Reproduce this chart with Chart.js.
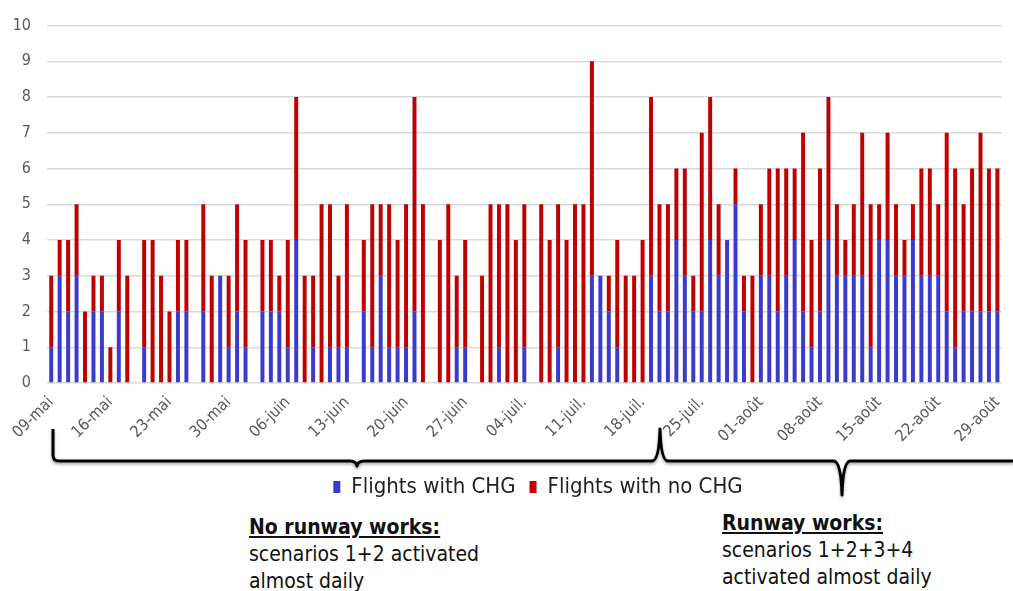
<!DOCTYPE html>
<html>
<head>
<meta charset="utf-8">
<script src="https://cdn.jsdelivr.net/npm/chart.js@4/dist/chart.umd.min.js"></script>
<style>
  body { margin: 0; background: #fff; }
  #wrap { position: relative; width: 1013px; height: 591px; overflow: hidden; }
  #box { position: absolute; left: 0; top: 0; width: 1013px; height: 505px; }
  .note { position: absolute; font-family: 'DejaVu Sans Condensed', 'Liberation Sans', sans-serif;
          font-size: 21px; line-height: 27px; color: #111; white-space: nowrap; }
  .note b { text-decoration: underline; }
</style>
</head>
<body>
<div id="wrap">
  <div id="box"><canvas id="chg"></canvas></div>
  <div class="note" style="left:249px; top:514px"><b>No runway works:</b><br>scenarios 1+2 activated<br>almost daily</div>
  <div class="note" style="left:722px; top:510px"><b>Runway works:</b><br>scenarios 1+2+3+4<br>activated almost daily</div>
</div>
<script>
// one bar per day, 09 May -> 29 Aug
let months = [['mai', 31], ['juin', 30], ['juil.', 31], ['août', 31]]
let firstDay = 9
let nbDays = 113

let withChg = [
    1,3,2,3,0,2,2,0,2,0,
    0,1,0,0,0,2,2,0,2,0,
    3,1,2,1,0,2,2,2,1,4,
    0,1,0,1,1,1,0,2,1,3,
    1,1,1,2,0,0,0,0,1,1,
    0,0,0,1,0,0,1,0,0,0,
    1,0,0,0,3,3,2,1,0,0,
    0,3,2,2,4,3,2,2,4,3,
    4,5,2,0,3,3,2,3,4,2,
    1,2,4,3,3,3,3,1,4,4,
    3,3,4,3,3,3,2,1,2,2,
    2,2,2
]
let noChg = [
    2,1,2,2,2,1,1,1,2,3,
    0,3,4,3,2,2,2,0,3,3,
    0,2,3,3,0,2,2,1,3,4,
    3,2,5,4,2,4,0,2,4,2,
    4,3,4,6,5,0,4,5,2,3,
    0,3,5,4,5,4,4,0,5,4,
    4,4,5,5,6,0,1,3,3,3,
    4,5,3,3,2,3,1,5,4,2,
    0,1,1,3,2,3,4,3,2,5,
    3,4,4,2,1,2,4,4,1,3,
    2,1,1,3,3,2,5,5,3,4,
    5,4,4
]
let yTicks = [0,1,2,3,4,5,6,7,8,9,10]

let days = []
let m = 0, d = firstDay
for (let i = 0; i < nbDays; i++) {
    days.push((d < 10 ? '0' + d : '' + d) + '-' + months[m][0])
    d++
    if (d > months[m][1]) { d = 1; m++ }
}

let font = "'DejaVu Sans Condensed', 'Liberation Sans', sans-serif"

// curly braces under the axis
let braces = {
    id: 'braces',
    afterDraw(chart) {
        let c = chart.ctx
        c.save()
        c.strokeStyle = '#000'
        c.lineWidth = 3
        c.lineJoin = 'round'
        c.shadowColor = 'rgba(0,0,0,0.35)'
        c.shadowBlur = 3
        c.shadowOffsetY = 2
        c.beginPath()
        c.moveTo(53, 429)
        c.lineTo(53, 455)
        c.quadraticCurveTo(53, 461, 59, 461)
        c.lineTo(350, 461)
        c.quadraticCurveTo(356, 461, 357, 466)
        c.quadraticCurveTo(358, 461, 364, 461)
        c.lineTo(652, 461)
        c.quadraticCurveTo(659, 461, 660, 429)
        c.quadraticCurveTo(661, 461, 668, 461)
        c.lineTo(834, 461)
        c.quadraticCurveTo(841, 462, 842, 495)
        c.quadraticCurveTo(843, 462, 850, 461)
        c.lineTo(1013, 461)
        c.stroke()
        c.restore()
    }
}

// legend sits a little right of centre, between the two braces
let legendShift = {
    id: 'legendShift',
    afterLayout(chart) {
        let lg = chart.legend
        lg.left += 34; lg.right += 34
        lg.top += 3; lg.bottom += 3
    }
}

new Chart(document.getElementById('chg'), {
    type: 'bar',
    data: {
        labels: days,
        datasets: [
            { label: 'Flights with CHG', data: withChg, backgroundColor: '#3a3acf', barPercentage: 0.47, categoryPercentage: 1 },
            { label: 'Flights with no CHG', data: noChg, backgroundColor: '#c00000', barPercentage: 0.47, categoryPercentage: 1 }
        ]
    },
    options: {
        responsive: true,
        maintainAspectRatio: false,
        animation: false,
        layout: { padding: { top: 14, right: 5, left: 0, bottom: 0 } },
        plugins: {
            tooltip: { enabled: false },
            legend: {
                position: 'bottom',
                labels: {
                    boxWidth: 7, boxHeight: 12, padding: 14,
                    color: '#222',
                    font: { family: font, size: 22 }
                }
            }
        },
        scales: {
            x: {
                stacked: true,
                grid: { display: false },
                border: { display: false },
                ticks: {
                    autoSkip: false,
                    minRotation: 45, maxRotation: 45,
                    padding: 2,
                    color: '#595959',
                    font: { family: font, size: 16 },
                    callback: function(v, i) { return i % 7 === 0 ? this.getLabelForValue(v) : '' }
                },
                afterFit(axis) { axis.height = 76 }
            },
            y: {
                stacked: true,
                min: 0, max: 10,
                afterBuildTicks(axis) { axis.ticks = yTicks.map(v => ({ value: v })) },
                grid: { color: '#d9d9d9', lineWidth: 1.5, drawTicks: false },
                border: { display: false },
                ticks: {
                    padding: 16,
                    color: '#595959',
                    font: { family: font, size: 16 }
                },
                afterFit(axis) { axis.width = 47 }
            }
        }
    },
    plugins: [braces, legendShift]
})
</script>
</body>
</html>
